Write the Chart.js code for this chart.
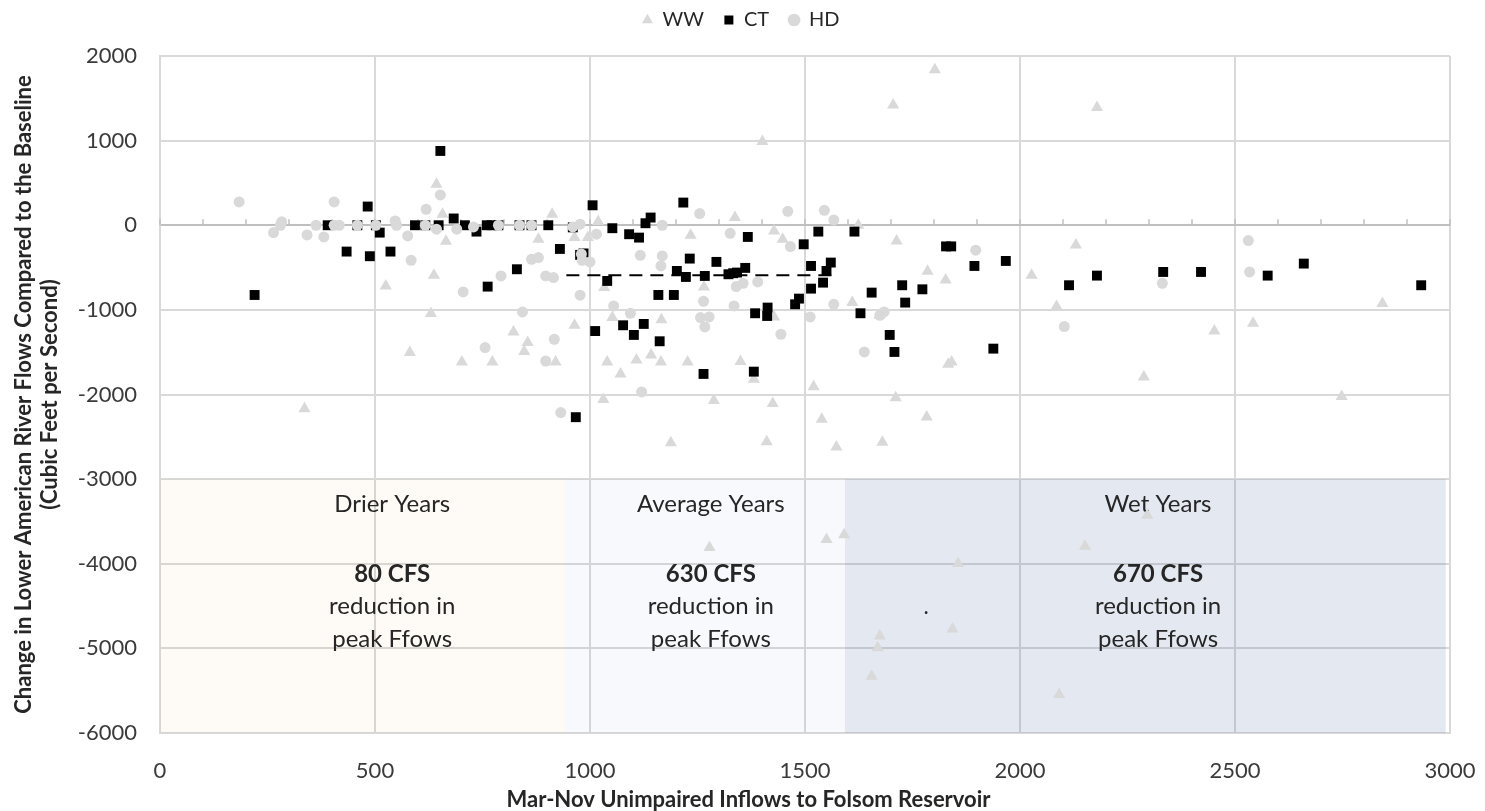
<!DOCTYPE html>
<html>
<head>
<meta charset="utf-8">
<script src="https://cdn.jsdelivr.net/npm/chart.js@4.4.1/dist/chart.umd.min.js"></script>
<style>
    html, body { margin: 0; padding: 0; background: #ffffff; }
    #chart-container { width: 1485px; height: 811px; }
</style>
</head>
<body>
<div id="chart-container"><canvas id="chart"></canvas></div>
<script>
// series names
const seriesNames = ['WW', 'CT', 'HD'];

// WW (light grey triangles): [inflow, change]
const wwPoints = [
    [336, -2167], [525, -717], [581, -1505], [630, -1044], [637, -591], [665, -190], [657, 130], [643, 485],
    [702, -1616], [773, -1616], [822, -1261], [855, -1387], [847, -1493], [920, -1616], [964, -1182], [880, -165],
    [912, 130], [964, -146], [995, -146], [1019, 45], [1031, -2060], [1033, -737], [1052, -1091], [1040, -1616],
    [1071, -1757], [1108, -1592], [1142, -1533], [1165, -1616], [1166, -1118], [1188, -2569], [1234, -118], [1265, -729],
    [1227, -1616], [1288, -2072], [1337, 91], [1350, -1611], [1381, -1820], [1411, -2557], [1425, -2106], [1428, -67],
    [1448, -165], [1428, -1083], [1520, -1907], [1539, -2293], [1573, -2620], [1610, -914], [1624, 0], [1673, -1064],
    [1680, -2565], [1711, -2037], [1713, -185], [1783, -2266], [1785, -544], [1827, -646], [1833, -1643], [1401, 990],
    [1705, 1422], [1802, 1837], [2179, 1391], [2130, -233], [2027, -591], [2085, -961], [2452, -1249], [2288, -1793],
    [2542, -1158], [2843, -925], [2748, -2025], [1841, -1616], [1278, -3809], [1550, -3712], [1591, -3658], [1856, -3997],
    [2151, -3794], [2296, -3428], [1674, -4855], [1669, -4993], [1655, -5328], [1843, -4772], [2091, -5546]
];

// CT (black squares)
const ctPoints = [
    [220, -824], [390, 0], [434, -311], [459, 0], [483, 221], [488, -366], [502, 0], [511, -87],
    [536, -311], [593, 0], [617, 0], [648, 0], [652, 878], [683, 80], [709, 0], [736, -75],
    [760, 0], [771, 0], [787, 0], [836, 0], [864, 0], [903, 0], [762, -725], [830, -520],
    [930, -280], [960, -25], [977, -350], [985, -333], [1006, 236], [1012, -1250], [967, -2268], [1040, -658],
    [1052, -35], [1091, -106], [1114, -146], [1129, 24], [1141, 91], [1217, 268], [1202, -540], [1223, -611],
    [1232, -394], [1267, -599], [1294, -433], [1322, -579], [1333, -567], [1342, -559], [1361, -504], [1367, -138],
    [1159, -824], [1195, -824], [1077, -1182], [1102, -1296], [1125, -1166], [1162, -1371], [1264, -1757], [1381, -1730],
    [1384, -1040], [1413, -973], [1412, -1072], [1477, -934], [1486, -867], [1497, -225], [1514, -481], [1531, -75],
    [1514, -749], [1542, -678], [1550, -540], [1560, -441], [1615, -75], [1629, -1040], [1655, -796], [1697, -1296],
    [1708, -1497], [1726, -709], [1733, -914], [1773, -757], [1828, -250], [1840, -250], [1894, -481], [1967, -422],
    [1938, -1458], [2114, -709], [2179, -595], [2333, -552], [2421, -552], [2576, -595], [2660, -453], [2933, -709]
];

// HD (light grey circles)
const hdPoints = [
    [184, 276], [283, 40], [280, 0], [264, -87], [342, -114], [363, 0], [381, -138], [405, 276],
    [405, 0], [417, 0], [547, 51], [550, 0], [576, -126], [584, -414], [619, 189], [652, 358], [643, -47],
    [690, -47], [729, -20], [787, 0], [793, -599], [705, -788], [843, -1024], [756, -1446], [917, -1347],
    [897, -1604], [932, -2214], [864, -402], [880, -382], [897, -599], [915, -618], [977, -827], [982, -414],
    [1000, -433], [1015, -106], [977, 12], [1055, -954], [1094, -1040], [1117, -355], [1120, -1970], [1168, 0],
    [1168, -363], [1165, -481], [1255, 138], [1264, -898], [1257, -1091], [1277, -1083], [1267, -1202], [1326, -95],
    [1335, -954], [1340, -725], [1356, -686], [1390, -670], [1444, -1288], [1460, 165], [1466, -252], [1512, -1083],
    [1545, 177], [1567, 63], [1567, -934], [1638, -1497], [1674, -1064], [1684, -1024], [1897, -295], [2103, -1197],
    [2331, -686], [2531, -181], [2534, -552], [459, 0], [502, 0], [617, 0], [836, 0], [864, 0], [960, -20], [980, -340]
];

// average-years reduction line
const avgLineX = [945, 1575];
const avgLineY = -590;

// year-type bands: [from, to] in inflow units, bands reach from -3000 down to -6000
const bandNames = ['Drier Years', 'Average Years', 'Wet Years'];
const bandFrom = [0, 941, 1593];
const bandTo = [941, 1593, 2990];
const bandCfs = ['80 CFS', '630 CFS', '670 CFS'];
const bandTextX = [540, 1281, 2321];

const xTicks = [0, 500, 1000, 1500, 2000, 2500, 3000];
const yTicks = [-6000, -5000, -4000, -3000, -2000, -1000, 0, 1000, 2000];

const GreyMark = '#d9d9d9';
const TextColor = '#262626';
const FontName = 'Lato, "Open Sans", sans-serif';

function toXY(list) {
    return list.map(p => ({ x: p[0], y: p[1] }));
}

// keep the legend band at a fixed height and nudge its row
const legendHeight = {
    id: 'legendHeight',
    beforeInit(chart) {
        const fitValue = chart.legend.fit;
        chart.legend.fit = function fit() {
            fitValue.bind(chart.legend)();
            this.height = 56;
        };
    },
    afterLayout(chart) {
        chart.legend.top = -10;
        chart.legend.left += 16;
        chart.legend.right += 16;
    }
};

// shaded bands, their notes and the minor ticks on the zero line
const bandsPlugin = {
    id: 'bands',
    beforeDatasetsDraw(chart) {
        const { ctx } = chart;
        const xs = chart.scales.x;
        const ys = chart.scales.y;
        const fills = ['rgba(240,160,80,0.05)', 'rgba(100,130,200,0.05)', 'rgba(75,102,155,0.15)'];
        ctx.save();
        for (let i = 0; i < bandNames.length; i++) {
            const x0 = xs.getPixelForValue(bandFrom[i]);
            const x1 = xs.getPixelForValue(bandTo[i]);
            const y0 = ys.getPixelForValue(-3000);
            const y1 = ys.getPixelForValue(-6000);
            ctx.fillStyle = fills[i];
            ctx.fillRect(x0, y0, x1 - x0, y1 - y0);
        }

        // minor ticks along the zero line
        const zeroY = ys.getPixelForValue(0);
        ctx.strokeStyle = '#bfbfbf';
        ctx.lineWidth = 1.5;
        for (let v = 0; v <= 3000; v += 100) {
            const px = xs.getPixelForValue(v);
            ctx.beginPath();
            ctx.moveTo(px, zeroY);
            ctx.lineTo(px, zeroY - 6);
            ctx.stroke();
        }

        ctx.fillStyle = TextColor;
        ctx.textAlign = 'center';
        ctx.textBaseline = 'middle';
        for (let i = 0; i < bandNames.length; i++) {
            const px = xs.getPixelForValue(bandTextX[i]);
            ctx.font = '24px ' + FontName;
            ctx.fillText(bandNames[i], px, ys.getPixelForValue(-3298));
            ctx.font = 'bold 24px ' + FontName;
            ctx.fillText(bandCfs[i], px, ys.getPixelForValue(-4125));
            ctx.font = '24px ' + FontName;
            ctx.fillText('reduction in', px, ys.getPixelForValue(-4503));
            ctx.fillText('peak Ffows', px, ys.getPixelForValue(-4893));
        }
        ctx.font = 'bold 18px ' + FontName;
        ctx.fillText('.', xs.getPixelForValue(1782), ys.getPixelForValue(-4520));
        ctx.restore();
    },
    afterDraw(chart) {
        const { ctx, width } = chart;
        ctx.save();
        ctx.fillStyle = TextColor;
        ctx.font = 'bold 22px ' + FontName;
        ctx.textAlign = 'center';
        ctx.textBaseline = 'middle';
        ctx.fillText('Mar-Nov Unimpaired Inflows to Folsom Reservoir', width / 2 + 6, 800);
        ctx.restore();
    }
};

const canvas = document.getElementById('chart');

new Chart(canvas, {
    type: 'scatter',
    data: {
        datasets: [
            {
                label: seriesNames[0],
                data: toXY(wwPoints),
                pointStyle: 'triangle',
                pointRadius: 7,
                pointHoverRadius: 7,
                pointBorderWidth: 0,
                backgroundColor: GreyMark,
                borderColor: GreyMark,
                order: 3
            },
            {
                label: seriesNames[1],
                data: toXY(ctPoints),
                pointStyle: 'rect',
                pointRadius: 7,
                pointHoverRadius: 7,
                pointBorderWidth: 0,
                backgroundColor: '#000000',
                borderColor: '#000000',
                order: 2
            },
            {
                label: seriesNames[2],
                data: toXY(hdPoints),
                pointStyle: 'circle',
                pointRadius: 5.5,
                pointHoverRadius: 5.5,
                pointBorderWidth: 0,
                backgroundColor: GreyMark,
                borderColor: GreyMark,
                order: 1
            },
            {
                type: 'line',
                label: 'avg',
                data: avgLineX.map(x => ({ x: x, y: avgLineY })),
                borderColor: '#000000',
                borderWidth: 2,
                borderDash: [13, 8],
                pointRadius: 0,
                fill: false,
                order: 0
            }
        ]
    },
    options: {
        responsive: true,
        maintainAspectRatio: false,
        animation: false,
        layout: {
            padding: { left: 0, right: 35, top: 0, bottom: 0 }
        },
        scales: {
            x: {
                type: 'linear',
                min: 0,
                max: 3000,
                afterFit: scale => {
                    scale.height = 78;
                    scale.paddingLeft = 0;
                    scale.paddingRight = 0;
                },
                afterBuildTicks: scale => { scale.ticks = xTicks.map(v => ({ value: v })); },
                grid: { color: GreyMark, lineWidth: 2, drawTicks: false },
                border: { color: GreyMark, width: 2 },
                ticks: {
                    color: '#3a3a3a',
                    padding: 25,
                    font: { family: FontName, size: 22 },
                    callback: value => String(value)
                }
            },
            y: {
                type: 'linear',
                min: -6000,
                max: 2000,
                afterFit: scale => {
                    scale.width = 160;
                    scale.paddingTop = 0;
                    scale.paddingBottom = 0;
                },
                afterBuildTicks: scale => { scale.ticks = yTicks.map(v => ({ value: v })); },
                grid: {
                    drawTicks: false,
                    color: ctx => (ctx.tick && ctx.tick.value === 0 ? '#bfbfbf' : GreyMark),
                    lineWidth: 2
                },
                border: { color: GreyMark, width: 2 },
                ticks: {
                    color: '#3a3a3a',
                    padding: 23,
                    font: { family: FontName, size: 22 },
                    callback: value => String(value)
                },
                title: {
                    display: true,
                    text: ['Change in Lower American River Flows Compared to the Baseline', '(Cubic Feet per Second)'],
                    color: TextColor,
                    padding: { top: 11, bottom: 0 },
                    font: { family: FontName, size: 22, weight: 'bold', lineHeight: 1.18 }
                }
            }
        },
        plugins: {
            legend: {
                position: 'top',
                labels: {
                    usePointStyle: true,
                    boxWidth: 10,
                    boxHeight: 9,
                    padding: 20,
                    color: TextColor,
                    font: { family: FontName, size: 20 },
                    filter: item => item.text !== 'avg',
                    sort: (a, b) => seriesNames.indexOf(a.text) - seriesNames.indexOf(b.text)
                }
            },
            tooltip: { enabled: false }
        }
    },
    plugins: [legendHeight, bandsPlugin]
});
</script>
</body>
</html>
